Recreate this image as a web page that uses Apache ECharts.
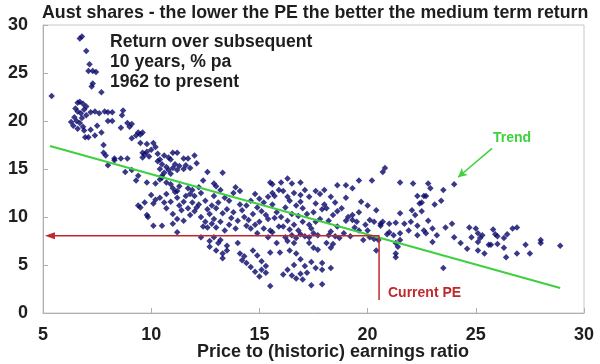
<!DOCTYPE html>
<html>
<head>
<meta charset="utf-8">
<script src="https://cdn.jsdelivr.net/npm/echarts@6/dist/echarts.min.js"></script>
<style>html,body{margin:0;padding:0;background:#fff}#c{width:600px;height:364px}</style>
</head>
<body>
<div id="c"></div>
<script>
// ---- data: [PE ratio, return over subsequent 10 years % pa] ----
const pe5to8 = [
  [5.4,22.6],[6.7,28.6],[6.8,28.8],[7.0,27.3],[7.15,25.9],[7.1,25.2],[7.3,25.2],[7.45,25.1],[7.3,23.9],[7.25,23.6],[7.7,23.0],
  [6.6,21.9],[6.7,22.0],[6.85,21.8],[6.5,21.3],[6.6,21.0],[6.75,20.8],[6.9,21.2],[7.0,20.6],[6.45,20.4],[6.55,20.0],[6.7,19.8],
  [6.4,19.5],[6.6,19.2],[6.85,19.4],[6.9,19.0],[7.2,19.1],[7.5,19.5],[7.2,20.9],[7.4,21.0],[7.6,20.8],[7.85,21.0],[8.0,20.9],
  [7.7,18.8],[7.4,18.5],[6.95,18.3],[7.1,18.3],[7.8,17.5],[7.8,16.7],[7.9,16.4],[8.0,15.4],[6.3,19.9],[6.8,20.3],[7.0,21.5]
];
const pe8to10 = [
  [8.2,20.9],[8.7,21.1],[8.65,20.6],[8.2,20.0],[8.6,19.3],[8.9,19.8],[9.0,19.4],[9.1,19.7],[8.0,20.0],[9.4,18.8],[9.6,18.8],
  [9.3,18.5],[9.5,18.6],[9.1,18.2],[9.5,17.7],[9.8,17.6],[10.1,17.7],[10.2,17.3],[9.6,16.7],[9.8,16.8],[9.9,16.3],[10.0,17.0],
  [8.3,16.1],[8.6,16.1],[8.9,16.1],[8.3,15.9],[8.8,14.7],[9.1,14.9],[9.3,13.8],[9.4,14.3],[9.8,13.6],[9.5,11.0],[9.4,11.2],
  [9.7,11.5],[9.8,10.2],[9.85,10.0],[9.6,16.2],[9.7,16.5]
];
const pe10to12 = [
  [10.3,16.6],[10.4,16.0],[10.5,15.5],[10.7,15.2],[10.3,15.8],[10.6,16.4],[10.9,16.0],[11.0,16.7],[11.2,16.7],[11.5,16.1],
  [11.7,16.1],[12.0,16.4],[10.4,15.0],[10.6,14.6],[10.8,14.9],[11.0,15.1],[10.5,14.3],[10.9,14.5],[11.1,15.5],[11.3,15.3],
  [11.5,15.0],[11.6,15.4],[11.8,15.1],[11.2,14.9],[12.1,15.6],[10.2,13.5],[10.4,13.9],[10.5,14.1],[10.7,13.6],[10.9,13.4],
  [11.0,13.0],[11.2,12.7],[11.3,13.2],[11.1,12.6],[11.7,13.0],[11.8,12.4],[11.9,12.8],[12.0,12.2],[12.2,13.1],[12.3,12.5],
  [10.0,12.3],[10.2,11.8],[10.4,12.0],[10.6,11.5],[10.7,12.4],[10.1,11.4],[11.2,12.0],[11.3,11.2],[11.5,11.6],[11.7,10.9],
  [11.4,10.7],[11.9,11.5],[12.0,10.6],[11.8,10.2],[12.1,11.0],[10.7,10.9],[11.0,10.3],[11.2,9.8],[11.5,9.6],[11.0,9.3],
  [10.1,9.1],[10.5,9.1],[11.2,8.4],[10.9,11.6],[11.6,12.2],[10.8,16.2]
];
const pe12to14 = [
  [12.4,13.8],[12.6,14.7],[13.3,14.6],[12.9,13.5],[13.0,13.2],[13.2,12.8],[13.8,12.5],[13.9,13.1],[14.1,12.7],[12.5,11.7],
  [12.6,10.8],[12.8,11.2],[12.3,10.0],[12.5,9.5],[12.7,10.3],[12.9,9.8],[13.0,10.9],[13.1,11.5],[13.3,10.4],[13.5,10.8],
  [13.6,11.7],[13.7,9.9],[13.8,10.5],[12.4,9.0],[12.6,8.9],[12.8,9.3],[13.0,8.9],[13.2,9.5],[13.4,8.6],[13.6,9.2],[13.9,8.8],
  [14.0,9.6],[12.3,7.9],[12.7,7.5],[12.9,7.9],[13.1,7.3],[13.2,7.6],[13.0,6.5],[13.3,6.2],[13.5,6.5],[13.3,5.7],[14.0,7.3],
  [12.2,11.3],[12.9,12.2],[13.4,12.0],[14.1,11.3],[12.7,6.9],[13.5,7.0]
];
const pe14to16 = [
  [14.1,6.2],[14.2,5.5],[14.4,5.2],[14.3,5.9],[14.7,6.5],[14.9,6.0],[15.1,5.4],[15.3,4.9],[15.5,6.3],[14.6,4.8],[14.8,4.3],
  [15.0,3.8],[15.1,4.5],[15.3,4.2],[15.5,2.8],[15.8,7.3],[15.95,6.3],[14.2,10.7],[14.4,11.2],[14.6,11.7],[14.3,10.0],
  [14.5,9.7],[14.7,10.3],[14.9,11.0],[15.0,11.9],[15.2,11.5],[15.4,12.1],[14.8,9.2],[15.0,9.5],[15.2,8.8],[15.4,9.8],
  [15.5,8.6],[14.6,8.8],[15.1,10.6],[15.3,10.2],[15.6,13.4],[15.7,12.2],[15.9,12.8],[15.6,11.3],[15.8,10.5],[15.7,9.9],
  [15.9,9.0],[15.6,8.4],[14.4,9.1],[14.9,8.3],[15.4,7.9],[15.6,12.5],[14.8,12.4],[15.5,13.6]
];
const pe16to18 = [
  [16.0,13.6],[16.3,14.0],[16.5,13.5],[16.9,13.6],[16.1,12.7],[16.3,12.1],[16.6,12.5],[16.9,12.3],[16.4,11.7],[16.7,11.2],
  [16.2,11.0],[16.5,10.3],[16.0,10.0],[16.3,9.6],[16.6,9.2],[16.8,10.1],[17.0,9.5],[17.2,10.3],[17.0,10.9],[16.1,9.0],
  [16.4,8.7],[16.2,7.9],[16.5,8.1],[16.7,7.8],[16.9,8.2],[17.1,8.0],[17.3,7.9],[17.5,8.3],[17.7,8.1],[16.8,8.6],[17.4,8.8],
  [16.3,7.5],[16.6,7.3],[17.3,7.3],[17.5,6.8],[17.7,6.6],[16.7,6.2],[16.6,5.0],[16.9,5.6],[17.1,4.9],[17.4,5.3],[17.6,4.7],
  [17.9,5.2],[17.9,4.5],[16.3,4.5],[16.5,3.9],[16.7,3.6],[16.9,4.1],[17.0,3.5],[17.2,4.2],[16.1,4.0],[17.4,2.9],[17.9,3.0],
  [16.4,6.5],[17.3,12.1],[17.6,12.7],[17.8,12.4],[18.0,12.8],[17.6,11.4],[18.0,11.3],[17.5,10.5],[17.8,9.8],[17.3,9.2],
  [17.9,10.8],[17.6,9.5],[16.9,11.6],[17.1,12.8]
];
const pe18to20 = [
  [18.3,6.8],[18.3,4.7],[18.1,7.3],[18.4,7.2],[18.2,8.1],[18.5,8.0],[18.7,7.8],[18.3,8.5],[18.6,9.0],[18.2,9.6],[18.4,10.2],
  [18.6,10.6],[18.8,10.9],[18.1,10.9],[18.5,11.5],[18.3,12.1],[18.6,13.3],[19.0,13.3],[19.3,13.0],[19.6,13.8],[19.0,9.6],
  [19.3,9.7],[19.5,9.5],[19.3,10.2],[19.1,10.0],[19.6,10.5],[19.9,9.2],[19.6,8.6],[19.8,7.6],[20.0,8.6],[19.4,8.9],[18.9,8.3],
  [19.2,8.0],[20.1,9.7],[20.3,9.5],[20.2,13.8],[20.4,10.7],[20.6,9.1],[20.1,7.9],[20.3,7.7],[20.5,7.6],[20.4,6.5],[19.0,12.0],
  [19.7,11.6],[20.0,11.2]
];
const pe20to29 = [
  [20.7,14.7],[20.8,15.1],[20.6,9.3],[20.7,9.5],[21.0,9.3],[21.3,9.4],[21.0,8.4],[20.9,8.2],[21.2,8.1],[21.5,8.3],[21.3,7.3],
  [21.4,6.9],[21.3,6.2],[21.3,5.8],[21.5,10.4],[21.5,13.6],[21.5,7.6],[21.7,9.3],[21.9,8.6],[22.0,9.5],[22.1,13.5],[22.05,10.7],
  [22.2,10.2],[22.3,9.1],[22.3,12.2],[22.3,8.1],[22.4,11.4],[22.5,10.6],[22.6,12.2],[22.7,12.2],[22.5,11.5],[22.6,8.6],
  [22.7,8.3],[22.8,13.5],[22.8,9.6],[22.9,13.0],[23.0,8.8],[23.0,7.4],[23.1,11.3],[23.2,8.1],[23.4,11.7],[23.5,12.8],[23.5,4.7],
  [23.6,8.9],[23.9,9.3],[24.0,13.4],[24.0,7.9],[24.3,7.3],[24.6,6.7],[24.7,8.9],[24.8,7.9],[25.0,8.8],[25.1,7.4],[25.1,8.3],
  [25.2,7.8],[25.3,8.1],[25.1,6.5],[25.4,6.2],[25.6,7.1],[25.7,7.1],[25.8,8.7],[25.9,8.2],[26.0,8.0],[26.0,7.2],[26.3,6.8],
  [26.4,5.8],[26.3,7.8],[26.45,8.2],[26.7,8.8],[26.9,8.9],[26.9,6.2],[27.3,7.1],[27.5,6.2],[28.0,7.3],[28.0,7.6],[28.9,7.0]
];
const trendLine = [[5.32,17.4],[28.9,2.6]];
const currentPE = 20.53;
const currentReturnLevel = 8.04;
const currentPEBottom = 1.35;
const trendArrowFrom = [25.75,17.15];
const trendArrowTo = [24.18,14.14];
const xTicks = [5,10,15,20,25,30];
const yTicks = [0,5,10,15,20,25,30];

const titleText = 'Aust shares - the lower the PE the better the medium term return';
const legendLines = ['Return over subsequent','10 years, % pa','1962 to present'];
const xName = 'Price to (historic) earnings ratio';

const FONT = '"Liberation Sans", Arial, sans-serif';
const NAVY = '#08086a', GREEN = '#3fd03f', RED = '#c0282d', TXT = '#1e1e1e';

const allPoints = [].concat(pe5to8, pe8to10, pe10to12, pe12to14, pe14to16, pe16to18, pe18to20, pe20to29);

const chart = echarts.init(document.getElementById('c'), null, {renderer:'canvas'});
chart.setOption({
  animation:false,
  backgroundColor:'#fff',
  grid:{left:43,right:16,top:25,bottom:51,show:true,borderColor:'#c8c8c8',borderWidth:1,containLabel:false},
  xAxis:{type:'value',min:xTicks[0],max:xTicks[xTicks.length-1],interval:5,
    axisLine:{show:true,lineStyle:{color:'#b0b0b0',width:1}},
    axisTick:{show:true,inside:true,length:5,lineStyle:{color:'#b0b0b0'}},
    splitLine:{show:false},
    axisLabel:{color:TXT,fontFamily:FONT,fontWeight:'bold',fontSize:18,margin:13}},
  yAxis:{type:'value',min:yTicks[0],max:yTicks[yTicks.length-1],interval:5,
    axisLine:{show:true,lineStyle:{color:'#b0b0b0',width:1}},
    axisTick:{show:true,inside:true,length:5,lineStyle:{color:'#b0b0b0'}},
    splitLine:{show:false},
    axisLabel:{color:TXT,fontFamily:FONT,fontWeight:'bold',fontSize:18,margin:15}},
  series:[
    {type:'line',data:trendLine,symbol:'none',lineStyle:{color:GREEN,width:2},z:3,
      markLine:{silent:true,symbol:['none','arrow'],symbolSize:[7,9],
        lineStyle:{color:GREEN,width:1.5,type:'solid'},label:{show:false},
        data:[[{coord:trendArrowFrom},{coord:trendArrowTo}]]}},
    {type:'line',
      data:[{value:[trendLine[0][0],currentReturnLevel],symbol:'triangle',symbolRotate:90,symbolSize:[7,10]},
            {value:[currentPE,currentReturnLevel],symbol:'none'},
            {value:[currentPE,currentPEBottom],symbol:'none'}],
      symbol:'none',itemStyle:{color:RED},lineStyle:{color:RED,width:1.5},z:4},
    {type:'scatter',data:allPoints,symbol:'diamond',symbolSize:6.5,itemStyle:{color:NAVY},z:2}
  ],
  graphic:[
    {type:'text',left:42,top:4,style:{text:titleText,font:'bold 17.8px '+FONT,fill:TXT}},
    {type:'text',left:110,top:32,style:{text:legendLines.join('\n'),font:'bold 17.6px '+FONT,fill:TXT,lineHeight:20}},
    {type:'text',left:197,top:343,style:{text:xName,font:'bold 18px '+FONT,fill:TXT}},
    {type:'text',left:493,top:131,style:{text:'Trend',font:'bold 14px '+FONT,fill:GREEN}},
    {type:'text',left:388,top:286,style:{text:'Current PE',font:'bold 14px '+FONT,fill:RED}}
  ]
});
</script>
</body>
</html>
